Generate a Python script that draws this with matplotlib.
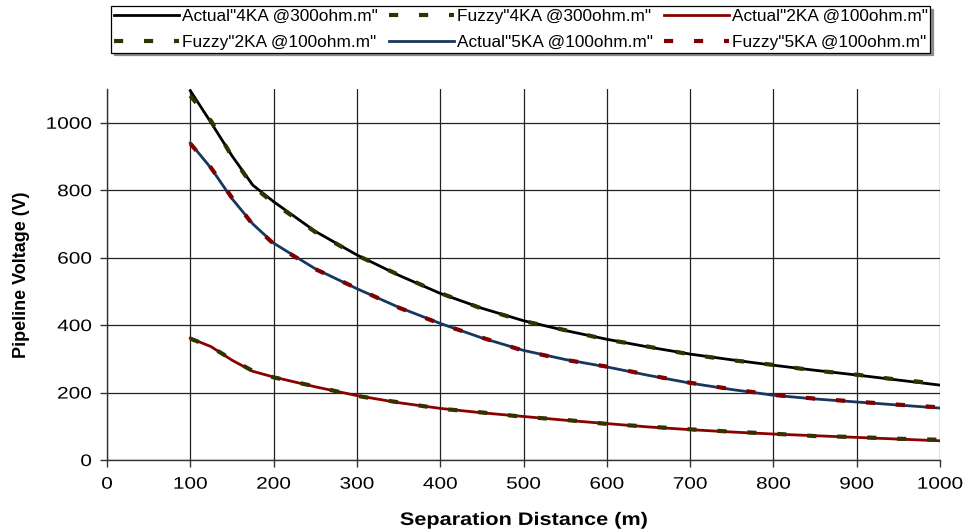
import matplotlib
matplotlib.use("Agg")
import matplotlib.pyplot as plt
from matplotlib.patheffects import AbstractPathEffect
from matplotlib.transforms import Affine2D

plt.rcParams['font.family'] = ['Liberation Sans', 'DejaVu Sans']

# 距离 (m)
dist = [100, 125, 150, 175, 200, 250, 300, 350, 400, 450, 500,
        550, 600, 650, 700, 750, 800, 850, 900, 950, 1000]

# 实测值 (V)
actual_4ka = [1095, 1000, 902, 815, 766, 678, 608, 548, 494, 450, 413,
              384, 358, 335, 314, 297, 281, 266, 252, 237, 222]
actual_2ka = [361, 336, 296, 263, 246, 217, 191, 170, 153, 140, 129,
              118, 108, 98, 90, 83, 77, 72, 67, 62, 57]
actual_5ka = [940, 865, 775, 700, 643, 567, 508, 453, 405, 362, 325,
              298, 276, 251, 228, 209, 192, 181, 172, 163, 154]

# 模糊模型值 (V)
fuzzy_4ka = [1080, 1005, 900, 812, 762, 676, 607, 549, 495, 449, 412,
             385, 357, 336, 313, 296, 282, 265, 253, 238, 226]
fuzzy_2ka = [360, 335, 298, 264, 245, 218, 190, 171, 152, 141, 128,
             119, 107, 99, 91, 84, 78, 71, 68, 63, 60]
fuzzy_5ka = [938, 866, 778, 698, 641, 566, 509, 452, 404, 363, 324,
             297, 277, 252, 229, 210, 193, 182, 173, 164, 156]

labels = ['Actual"4KA @300ohm.m"', 'Fuzzy"4KA @300ohm.m"', 'Actual"2KA @100ohm.m"',
          'Fuzzy"2KA @100ohm.m"', 'Actual"5KA @100ohm.m"', 'Fuzzy"5KA @100ohm.m"']


# 原图文字横向被拉宽，用路径效果把文字水平拉伸
class StretchX(AbstractPathEffect):
    def __init__(self, sx, anchor='center'):
        super().__init__()
        self.sx = sx
        self.anchor = anchor

    def draw_path(self, renderer, gc, tpath, affine, rgbFace=None):
        ext = tpath.get_extents(affine)
        x0 = {'left': ext.x0, 'right': ext.x1}.get(self.anchor, (ext.x0 + ext.x1) / 2)
        aff = affine + Affine2D().translate(-x0, 0).scale(self.sx, 1).translate(x0, 0)
        renderer.draw_path(gc, tpath, aff, rgbFace)


fig = plt.figure(figsize=(9.66, 5.29), dpi=100)
ax = fig.add_axes([107 / 966, 69 / 529, 833 / 966, 371 / 529])

dash = (0, (2.2, 5.0))
h_a4, = ax.plot(dist, actual_4ka, color='black', lw=2.0, label=labels[0])
h_a2, = ax.plot(dist, actual_2ka, color='#8B0000', lw=2.0, label=labels[2])
h_a5, = ax.plot(dist, actual_5ka, color='#17375E', lw=2.0, label=labels[4])
h_f4, = ax.plot(dist, fuzzy_4ka, color='#333300', lw=3.0, ls=dash,
                dash_capstyle='butt', label=labels[1])
h_f2, = ax.plot(dist, fuzzy_2ka, color='#333300', lw=3.0, ls=dash,
                dash_capstyle='butt', label=labels[3])
h_f5, = ax.plot(dist, fuzzy_5ka, color='#800000', lw=3.0, ls=dash,
                dash_capstyle='butt', label=labels[5])

ax.set_xlim(0, 1000)
ax.set_ylim(0, 1100)
ax.set_xticks(range(0, 1001, 100))
ax.set_yticks(range(0, 1001, 200))
ax.grid(True, color='#222222', lw=0.9)
ax.set_axisbelow(True)
for s in ['top', 'right']:
    ax.spines[s].set_visible(False)
for s in ['left', 'bottom']:
    ax.spines[s].set_color('#333333')
    ax.spines[s].set_linewidth(1.0)
ax.tick_params(direction='out', length=5, width=1.0, color='#333333', labelsize=12)
ax.tick_params(axis='x', pad=7)
ax.tick_params(axis='y', pad=6)
for t in ax.get_xticklabels():
    t.set_path_effects([StretchX(1.25)])
for t in ax.get_yticklabels():
    t.set_path_effects([StretchX(1.25, 'right')])

xl = ax.set_xlabel('Separation Distance (m)', fontsize=13, fontweight='bold')
xl.set_path_effects([StretchX(1.2)])
ax.xaxis.set_label_coords(0.5, -0.14)
ax.set_ylabel('Pipeline Voltage (V)', fontsize=13, fontweight='bold')
ax.yaxis.set_label_coords(-0.093, 0.5)

# 图例：两行三列（按列填充，所以重新排序）
handles = [h_a4, h_f2, h_f4, h_a5, h_a2, h_f5]
leg = fig.legend(handles, [h.get_label() for h in handles],
                 loc='upper left', ncol=3, bbox_to_anchor=(111 / 966, 1 - 6 / 529),
                 fontsize=12.4, handlelength=3.78, handletextpad=0.17,
                 columnspacing=0.64, borderaxespad=0, fancybox=False,
                 frameon=True, edgecolor='black', framealpha=1,
                 shadow={'color': '0.55', 'alpha': 1},
                 borderpad=0.15, labelspacing=0.66)
leg.get_frame().set_linewidth(0.9)

fig.savefig('out.png', dpi=100)
